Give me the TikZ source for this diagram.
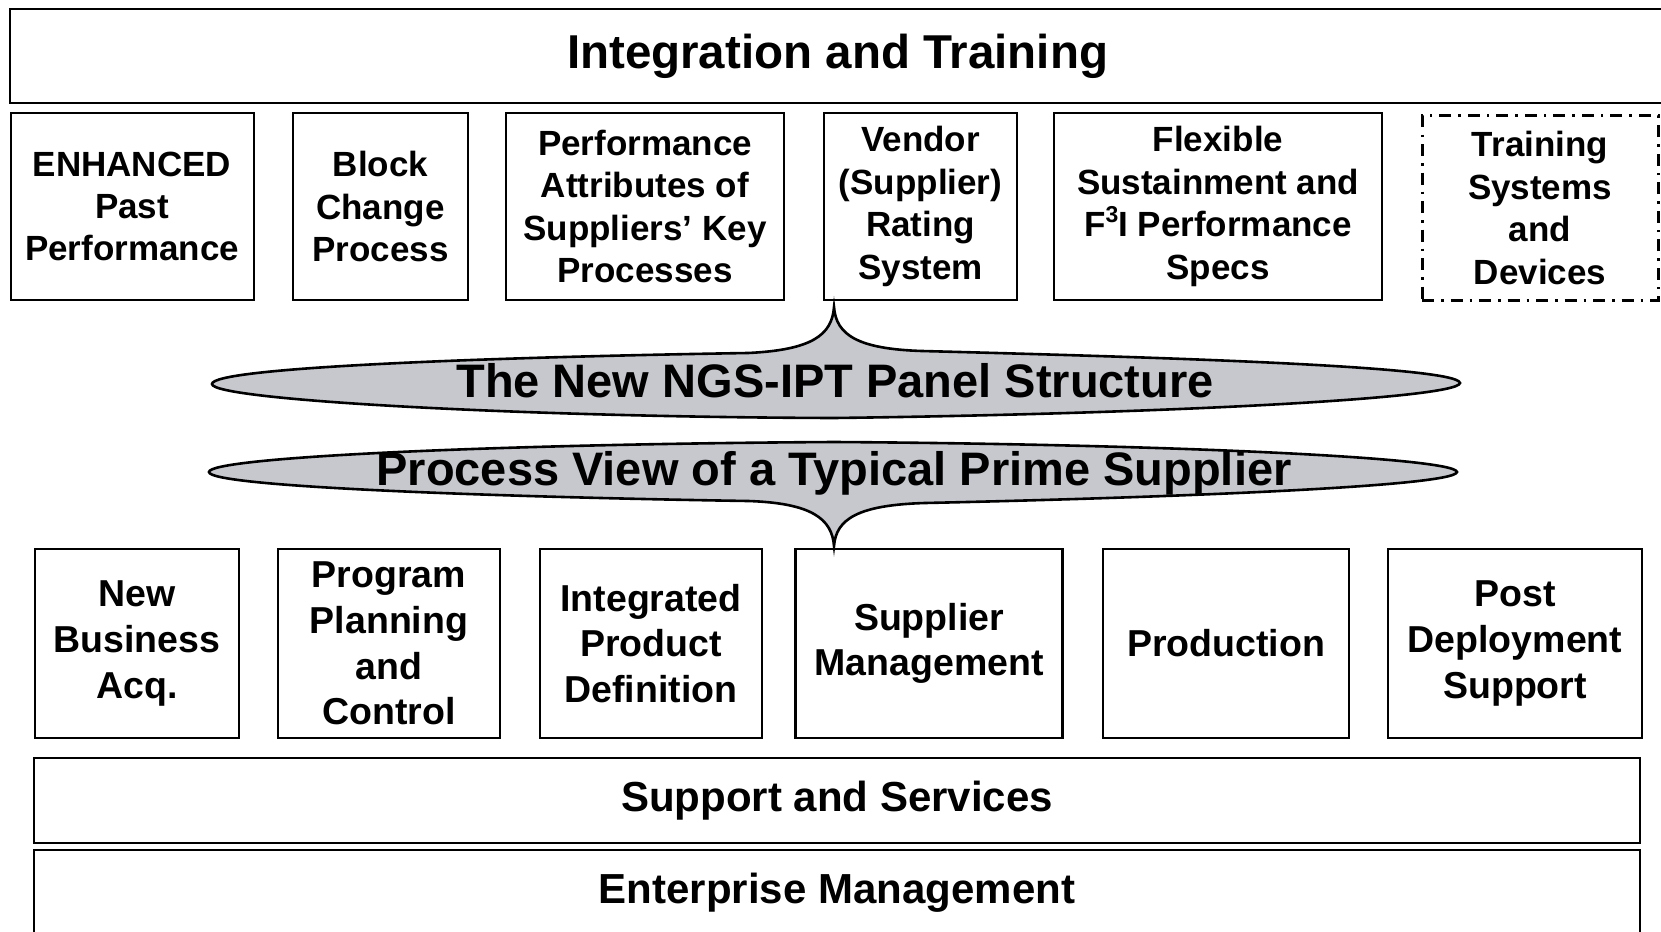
\documentclass[tikz,border=0pt]{standalone}
\usepackage{fontspec}
\setmainfont{Liberation Sans}
\usetikzlibrary{shapes,arrows}

\definecolor{bannergray}{RGB}{198,200,206}
\newcommand{\cubed}{\raisebox{0.42em}{\fontsize{23}{23}\selectfont 3}}

\begin{document}
\begin{tikzpicture}[x=1pt,y=-1pt,
    bar/.style={draw,line width=2pt,inner sep=0pt,font=\fontsize{42}{50}\selectfont\bfseries},
    upbox/.style={draw,line width=2pt,align=center,inner sep=0pt,minimum height=187pt,font=\fontsize{35}{42.4}\selectfont\bfseries},
    lowbox/.style={draw,line width=2.2pt,align=center,inner sep=0pt,minimum height=189pt,font=\fontsize{37.5}{45.6}\selectfont\bfseries},
    banner/.style={draw,line width=2.6pt,fill=bannergray},
    bannertext/.style={anchor=base,inner sep=0pt,font=\fontsize{47}{56}\selectfont\bfseries}]
    \useasboundingbox (0,0) rectangle (1661,931);

    %Bar: top
    \node[bar,minimum width=1655pt,minimum height=94.5pt,font=\fontsize{47.5}{56}\selectfont\bfseries] (integ) at (837.5,56) {Integration and Training};

    %Row of panels
    \node[upbox,minimum width=243pt] (enhanced) at (132,206.5) {ENHANCED\\Past\\Performance};
    \node[upbox,minimum width=175pt] (block) at (380.5,206.5) {Block\\Change\\Process};
    \node[upbox,minimum width=278pt] (attrib) at (645,206.5) {Performance\\Attributes of\\Suppliers’ Key\\Processes};
    \node[upbox,minimum width=193pt] (vendor) at (920.5,206.5) {Vendor\\(Supplier)\\Rating\\System};
    \node[upbox,minimum width=328pt] (flex) at (1218,206.5) {Flexible\\Sustainment and\\F\cubed I Performance\\Specs};
    \node[upbox,minimum width=236pt,minimum height=184pt,line width=3pt,dash pattern=on 12pt off 7pt on 2.5pt off 7pt] (train) at (1540,208) {Training\\Systems\\and\\Devices};

    %Banner: panel structure
    \draw[banner] (212,384) .. controls (212,367) and (500,357) .. (748,353)
        .. controls (812,350) and (832,335) .. (834,307)
        .. controls (836,335) and (858,349) .. (922,351)
        .. controls (1150,357) and (1458,366) .. (1460,383)
        .. controls (1458,399) and (1150,414) .. (834,418)
        .. controls (520,417) and (212,400) .. cycle;
    %Banner: process view
    \draw[banner] (209,472) .. controls (209,457) and (500,444) .. (834,442)
        .. controls (1150,444) and (1455,457) .. (1457,472)
        .. controls (1455,487) and (1150,498) .. (925,503)
        .. controls (858,505) and (836,519) .. (834,546)
        .. controls (832,519) and (812,503) .. (748,501)
        .. controls (500,497) and (209,487) .. cycle;
    % Text Node
    \node[bannertext] (panel) at (835,397) {The New NGS-IPT Panel Structure};
    % Text Node
    \node[bannertext] (procview) at (834,485) {Process View of a Typical Prime Supplier};

    %Row of processes
    \node[lowbox,minimum width=204pt] (newbus) at (137,643.5) {New\\Business\\Acq.};
    \node[lowbox,minimum width=222pt] (plan) at (389,643.5) {Program\\Planning\\and\\Control};
    \node[lowbox,minimum width=222pt] (product) at (651,643.5) {Integrated\\Product\\Definition};
    \node[lowbox,minimum width=267pt] (supmgmt) at (929,643.5) {Supplier\\Management};
    \node[lowbox,minimum width=246pt] (prod) at (1226,643.5) {Production};
    \node[lowbox,minimum width=254pt] (post) at (1515,643.5) {Post\\Deployment\\Support};

    %Bars: bottom
    \node[bar,minimum width=1606pt,minimum height=85pt] (support) at (837,800.5) {Support and Services};
    \node[bar,minimum width=1606pt,minimum height=85pt] (enterp) at (837,892.5) {Enterprise Management};
\end{tikzpicture}
\end{document}
